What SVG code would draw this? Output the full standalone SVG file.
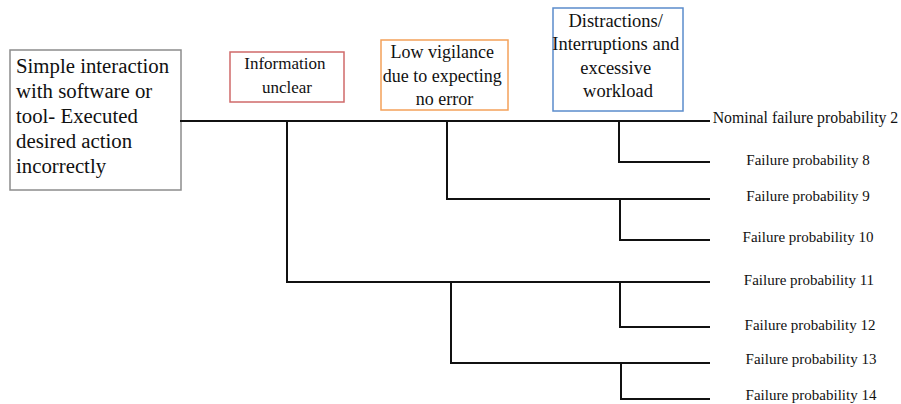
<svg xmlns="http://www.w3.org/2000/svg" width="901" height="404" viewBox="0 0 901 404">
  <style>
    .box { fill: #ffffff; stroke-width: 1.5; }
    .t { font-family: "Liberation Serif", "Times New Roman", serif; fill: #111111; }
    .c { text-anchor: middle; }
    .edge { fill: none; stroke: #111111; stroke-width: 2; stroke-linecap: square; }
    .lbl { font-family: "Liberation Serif", "Times New Roman", serif; font-size: 15px; fill: #111111; text-anchor: middle; }
    .nom { font-size: 15.8px; }
  </style>

  <!-- root event -->
  <g id="root">
    <rect class="box" x="10" y="50" width="171" height="140" stroke="#8c8c8c"/>
    <text class="t" font-size="20.8">
      <tspan x="16" y="73">Simple interaction</tspan>
      <tspan x="16" y="98">with software or</tspan>
      <tspan x="16" y="123">tool- Executed</tspan>
      <tspan x="16" y="148">desired action</tspan>
      <tspan x="16" y="173">incorrectly</tspan>
    </text>
  </g>

  <!-- performance shaping factors -->
  <g id="info-unclear">
    <rect class="box" x="230" y="52" width="114" height="50" stroke="#cf6a6a"/>
    <text class="t c" font-size="17">
      <tspan x="287" y="69">Information</tspan>
      <tspan x="287" y="93">unclear</tspan>
    </text>
  </g>

  <g id="low-vigilance">
    <rect class="box" x="381" y="40" width="127" height="70" stroke="#f4a15a"/>
    <text class="t c" font-size="18">
      <tspan x="444.5" y="58">Low vigilance</tspan>
      <tspan x="444.5" y="82">due to expecting</tspan>
      <tspan x="444.5" y="105">no error</tspan>
    </text>
  </g>

  <g id="distractions">
    <rect class="box" x="553" y="8" width="130" height="103" stroke="#5b8ccc"/>
    <text class="t c" font-size="18.5">
      <tspan x="618" y="27">Distractions/</tspan>
      <tspan x="618" y="50">Interruptions and</tspan>
      <tspan x="618" y="74">excessive</tspan>
      <tspan x="618" y="97">workload</tspan>
    </text>
  </g>

  <!-- event tree branches -->
  <g id="connectors">
    <path class="edge" d="M181 121 H709"/>
    <path class="edge" d="M619 121 V162 H709"/>
    <path class="edge" d="M447 121 V199 H709"/>
    <path class="edge" d="M620 199 V240 H709"/>
    <path class="edge" d="M287 121 V282 H709"/>
    <path class="edge" d="M620 282 V327 H709"/>
    <path class="edge" d="M451 282 V363 H709"/>
    <path class="edge" d="M621 363 V399 H709"/>
  </g>

  <!-- outcomes -->
  <g id="outcome-2"><text class="lbl nom" x="805.5" y="123">Nominal failure probability 2</text></g>
  <g id="outcome-8"><text class="lbl" x="808" y="165">Failure probability 8</text></g>
  <g id="outcome-9"><text class="lbl" x="808" y="201">Failure probability 9</text></g>
  <g id="outcome-10"><text class="lbl" x="808" y="242">Failure probability 10</text></g>
  <g id="outcome-11"><text class="lbl" x="809" y="285">Failure probability 11</text></g>
  <g id="outcome-12"><text class="lbl" x="810" y="330">Failure probability 12</text></g>
  <g id="outcome-13"><text class="lbl" x="811" y="364">Failure probability 13</text></g>
  <g id="outcome-14"><text class="lbl" x="811" y="400">Failure probability 14</text></g>
</svg>
